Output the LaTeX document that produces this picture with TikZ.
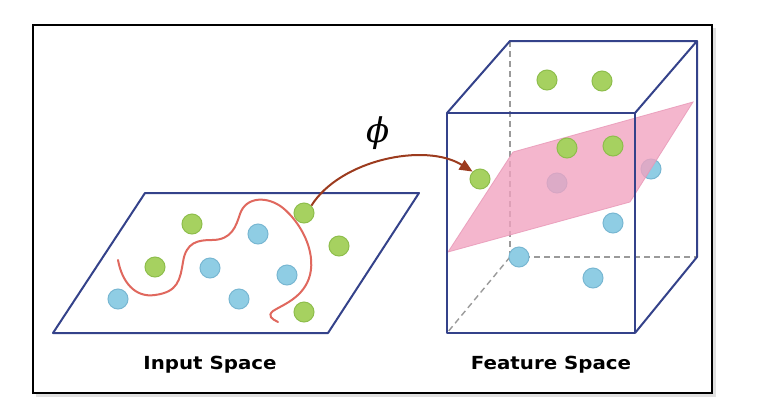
\documentclass[tikz,border=0pt]{standalone}
\usepackage{graphicx}
\usepackage{fontspec}
\newfontfamily\lblfont{DejaVu Sans}
\newfontfamily\phifont{DejaVu Serif}
\usetikzlibrary{arrows.meta}
\definecolor{frameblue}{HTML}{34428A}
\definecolor{gfill}{HTML}{A6D160}
\definecolor{gdraw}{HTML}{8EBE4C}
\definecolor{bfill}{HTML}{8FCDE4}
\definecolor{bdraw}{HTML}{78B7D2}
\definecolor{pinkp}{HTML}{F2A2C0}
\definecolor{pinkb}{HTML}{E896B6}
\definecolor{curvered}{HTML}{E0685E}
\definecolor{arrowbrown}{HTML}{9C3B1E}
\definecolor{dashgray}{HTML}{9A9A9A}
\tikzset{
  gdot/.style={circle,fill=gfill,draw=gdraw,line width=1pt,minimum size=20pt,inner sep=0pt},
  bdot/.style={circle,fill=bfill,draw=bdraw,line width=1pt,minimum size=20pt,inner sep=0pt},
  edge/.style={draw=frameblue,line width=2pt,line join=round},
  hidden/.style={draw=dashgray,line width=1.4pt,dash pattern=on 6pt off 4pt},
  lbl/.style={font=\lblfont\bfseries\fontsize{18}{21}\selectfont,text=black}
}
\begin{document}
\begin{tikzpicture}[x=1pt,y=-1pt]
\useasboundingbox (0,0) rectangle (772,408);
\fill[white] (0,0) rectangle (772,408);
% frame with shadow
\fill[black!12] (36,28) rectangle (716,397);
\fill[white] (33,25) rectangle (712,393);
\draw[line width=2pt] (33,25) rectangle (712,393);

% input plane
\coordinate (p1) at (145,193);
\coordinate (p2) at (419,193);
\coordinate (p3) at (328,333);
\coordinate (p4) at (53,333);
\draw[edge] (p1) -- (p2) -- (p3) -- (p4) -- cycle;

% red curve
\draw[curvered,line width=2pt,line cap=round]
  (118,260) .. controls (122,282) and (135,298) .. (155,295)
  .. controls (178,292) and (180,280) .. (183,262)
  .. controls (186,242) and (198,240) .. (212,240)
  .. controls (232,240) and (236,226) .. (240,214)
  .. controls (246,196) and (268,196) .. (283,208)
  .. controls (300,222) and (316,250) .. (310,275)
  .. controls (304,298) and (282,305) .. (273,311)
  .. controls (267,316) and (272,319) .. (278,322);

% input dots
\node[gdot] (g1) at (192,224) {};
\node[gdot] (g2) at (155,267) {};
\node[gdot] (g3) at (304,213) {};
\node[gdot] (g4) at (339,246) {};
\node[gdot] (g5) at (304,312) {};
\node[bdot] (b1) at (118,299) {};
\node[bdot] (b2) at (210,268) {};
\node[bdot] (b3) at (258,234) {};
\node[bdot] (b4) at (239,299) {};
\node[bdot] (b5) at (287,275) {};

% cube corners
\coordinate (bt1) at (510,41);
\coordinate (bt2) at (697,41);
\coordinate (bb2) at (697,257);
\coordinate (bb1) at (510,257);
\coordinate (ft1) at (447,113);
\coordinate (ft2) at (635,113);
\coordinate (fb2) at (635,333);
\coordinate (fb1) at (447,333);
\draw[hidden] (bt1) -- (bb1) -- (bb2);
\draw[hidden] (bb1) -- (fb1);

% dots behind plane
\node[bdot] (c6) at (557,183) {};
\node[bdot] (c7) at (651,169) {};

% separating plane
\fill[pinkp,opacity=0.78] (448,252) -- (513,152) -- (693,102) -- (630,202) -- cycle;
\draw[pinkb,line width=0.8pt,opacity=0.8] (448,252) -- (513,152) -- (693,102) -- (630,202) -- cycle;

% cube solid edges
\draw[edge] (ft1) -- (bt1) -- (bt2) -- (ft2);
\draw[edge] (bt2) -- (bb2) -- (fb2);
\draw[edge] (ft1) rectangle (fb2);

% cube dots
\node[gdot] (c1) at (547,80) {};
\node[gdot] (c2) at (602,81) {};
\node[gdot] (c3) at (567,148) {};
\node[gdot] (c4) at (613,146) {};
\node[gdot] (c5) at (480,179) {};
\node[bdot] (c8) at (613,223) {};
\node[bdot] (c9) at (519,257) {};
\node[bdot] (c10) at (593,278) {};

% mapping arrow
\draw[arrowbrown,line width=2pt,-{Triangle[length=13pt,width=11pt]}]
  (g3.north east) .. controls (340,160) and (425,142) .. (c5.north west);
\node[font=\phifont\itshape\fontsize{34}{36}\selectfont] (phi) at (378,133) {ϕ};

% labels
\node[lbl] (inlbl) at (210,365) {\scalebox{1.1}[1]{Input Space}};
\node[lbl] (felbl) at (551,365) {\scalebox{1.1}[1]{Feature Space}};
\end{tikzpicture}
\end{document}
